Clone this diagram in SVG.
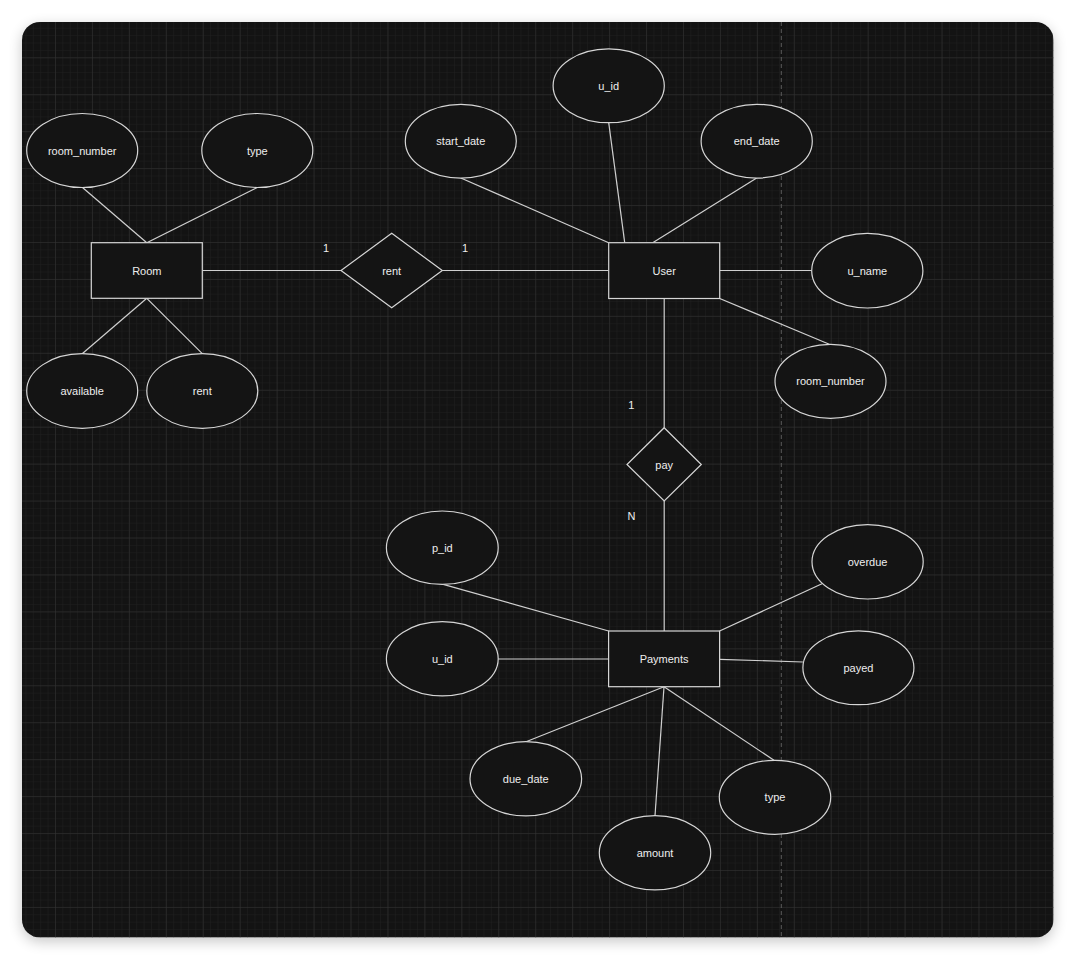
<svg xmlns="http://www.w3.org/2000/svg" width="1076" height="960" viewBox="0 0 1076 960">
<defs>
<style>
.shape{fill:#141414;stroke:#d6d6d6;stroke-width:1.2}
.conn line{stroke:#d0d0d0;stroke-width:1.2}
.t{font-family:"Liberation Sans",Arial,sans-serif;font-size:11px;fill:#eeeeee;text-anchor:middle;dominant-baseline:central}
</style>
<pattern id="minor" patternUnits="userSpaceOnUse" x="18.06" y="20.36" width="7.388" height="7.388">
<path d="M0 0H7.388M0 0V7.388" fill="none" stroke="#202020" stroke-width="1"/>
</pattern>
<pattern id="major" patternUnits="userSpaceOnUse" x="18.06" y="20.36" width="36.94" height="36.94">
<path d="M0 0H36.94M0 0V36.94" fill="none" stroke="#343434" stroke-width="1"/>
</pattern>
<filter id="sh" x="-10%" y="-10%" width="120%" height="120%">
<feGaussianBlur stdDeviation="7"/>
</filter>
<clipPath id="cv"><rect x="22" y="22" width="1031.5" height="915.5" rx="18"/></clipPath>
</defs>
<rect width="1076" height="960" fill="#ffffff"/>
<rect x="22" y="26" width="1031.5" height="915.5" rx="18" fill="#000" opacity="0.22" filter="url(#sh)"/>
<g id="canvas" clip-path="url(#cv)">
<rect x="22" y="22" width="1031.5" height="915.5" fill="#131313"/>
<rect x="22" y="22" width="1031.5" height="915.5" fill="url(#minor)"/>
<rect x="22" y="22" width="1031.5" height="915.5" fill="url(#major)"/>
<line x1="781.3" y1="22" x2="781.3" y2="938" stroke="#5a5a5a" stroke-width="1" stroke-dasharray="4 3"/>
</g>
<g id="connectors" class="conn">
<line x1="82.5" y1="187.5" x2="146.8" y2="242.7"/>
<line x1="257.3" y1="187.5" x2="146.8" y2="242.7"/>
<line x1="146.8" y1="298.3" x2="82.2" y2="353.7"/>
<line x1="146.8" y1="298.3" x2="202.3" y2="353.7"/>
<line x1="202.3" y1="270.5" x2="341" y2="270.5"/>
<line x1="442.3" y1="270.5" x2="608.7" y2="270.5"/>
<line x1="460.8" y1="178" x2="608.7" y2="242.7"/>
<line x1="608.7" y1="122.7" x2="624.7" y2="242.7"/>
<line x1="756.7" y1="178" x2="652.7" y2="242.7"/>
<line x1="719.7" y1="270.5" x2="811.7" y2="270.5"/>
<line x1="719.7" y1="298.5" x2="829.3" y2="344.3"/>
<line x1="664.2" y1="298.5" x2="664.2" y2="427.7"/>
<line x1="664.2" y1="501" x2="664.2" y2="631"/>
<line x1="443.2" y1="584.3" x2="608.6" y2="631"/>
<line x1="822" y1="583.7" x2="719.6" y2="631"/>
<line x1="498" y1="659" x2="608.6" y2="659"/>
<line x1="719.6" y1="659.3" x2="802.9" y2="662"/>
<line x1="664" y1="686.7" x2="526" y2="741.7"/>
<line x1="664" y1="686.7" x2="655" y2="815.7"/>
<line x1="664" y1="686.7" x2="774" y2="760.3"/>
<text class="t" x="326" y="248">1</text>
<text class="t" x="465" y="248">1</text>
<text class="t" x="631.3" y="405">1</text>
<text class="t" x="631.4" y="515.5">N</text>
</g>
<g id="room"><rect class="shape" x="91.3" y="242.7" width="111" height="55.6"/><text class="t" x="146.8" y="270.5">Room</text></g>
<g id="user"><rect class="shape" x="608.7" y="242.7" width="111" height="55.8"/><text class="t" x="664.2" y="270.5">User</text></g>
<g id="payments"><rect class="shape" x="608.6" y="631" width="111" height="55.7"/><text class="t" x="664.1" y="658.8">Payments</text></g>
<g id="rel-rent"><polygon class="shape" points="391.7,233.3 442.3,270.5 391.7,307.7 341,270.5"/><text class="t" x="391.7" y="270.5">rent</text></g>
<g id="rel-pay"><polygon class="shape" points="664.2,427.7 701.3,464.5 664.2,501 627,464.5"/><text class="t" x="664.2" y="464.5">pay</text></g>
<g id="attr-room-number"><ellipse class="shape" cx="82.2" cy="150.5" rx="55.5" ry="37"/><text class="t" x="82.2" y="150.5">room_number</text></g>
<g id="attr-room-type"><ellipse class="shape" cx="257.3" cy="150.5" rx="55.5" ry="37"/><text class="t" x="257.3" y="150.5">type</text></g>
<g id="attr-available"><ellipse class="shape" cx="82.2" cy="391" rx="55.5" ry="37.3"/><text class="t" x="82.2" y="391">available</text></g>
<g id="attr-rent"><ellipse class="shape" cx="202.3" cy="391" rx="55.5" ry="37.3"/><text class="t" x="202.3" y="391">rent</text></g>
<g id="attr-start-date"><ellipse class="shape" cx="460.8" cy="141.2" rx="55.5" ry="36.9"/><text class="t" x="460.8" y="141.2">start_date</text></g>
<g id="attr-user-uid"><ellipse class="shape" cx="608.7" cy="85.8" rx="55.6" ry="36.9"/><text class="t" x="608.7" y="85.8">u_id</text></g>
<g id="attr-end-date"><ellipse class="shape" cx="756.7" cy="141.2" rx="55.6" ry="36.9"/><text class="t" x="756.7" y="141.2">end_date</text></g>
<g id="attr-u-name"><ellipse class="shape" cx="867.3" cy="270.7" rx="55.6" ry="37.3"/><text class="t" x="867.3" y="270.7">u_name</text></g>
<g id="attr-user-room-number"><ellipse class="shape" cx="830.5" cy="381.3" rx="55.5" ry="37"/><text class="t" x="830.5" y="381.3">room_number</text></g>
<g id="attr-p-id"><ellipse class="shape" cx="442.3" cy="547.7" rx="55.9" ry="36.7"/><text class="t" x="442.3" y="547.7">p_id</text></g>
<g id="attr-pay-uid"><ellipse class="shape" cx="442.3" cy="658.8" rx="55.9" ry="37.1"/><text class="t" x="442.3" y="658.8">u_id</text></g>
<g id="attr-overdue"><ellipse class="shape" cx="867.6" cy="561.8" rx="55.6" ry="37.2"/><text class="t" x="867.6" y="561.8">overdue</text></g>
<g id="attr-payed"><ellipse class="shape" cx="858.4" cy="667.8" rx="55.5" ry="36.9"/><text class="t" x="858.4" y="667.8">payed</text></g>
<g id="attr-due-date"><ellipse class="shape" cx="525.8" cy="778.8" rx="55.8" ry="37.1"/><text class="t" x="525.8" y="778.8">due_date</text></g>
<g id="attr-amount"><ellipse class="shape" cx="655" cy="852.8" rx="55.7" ry="37.1"/><text class="t" x="655" y="852.8">amount</text></g>
<g id="attr-pay-type"><ellipse class="shape" cx="775" cy="797.3" rx="55.7" ry="37"/><text class="t" x="775" y="797.3">type</text></g>
</svg>
